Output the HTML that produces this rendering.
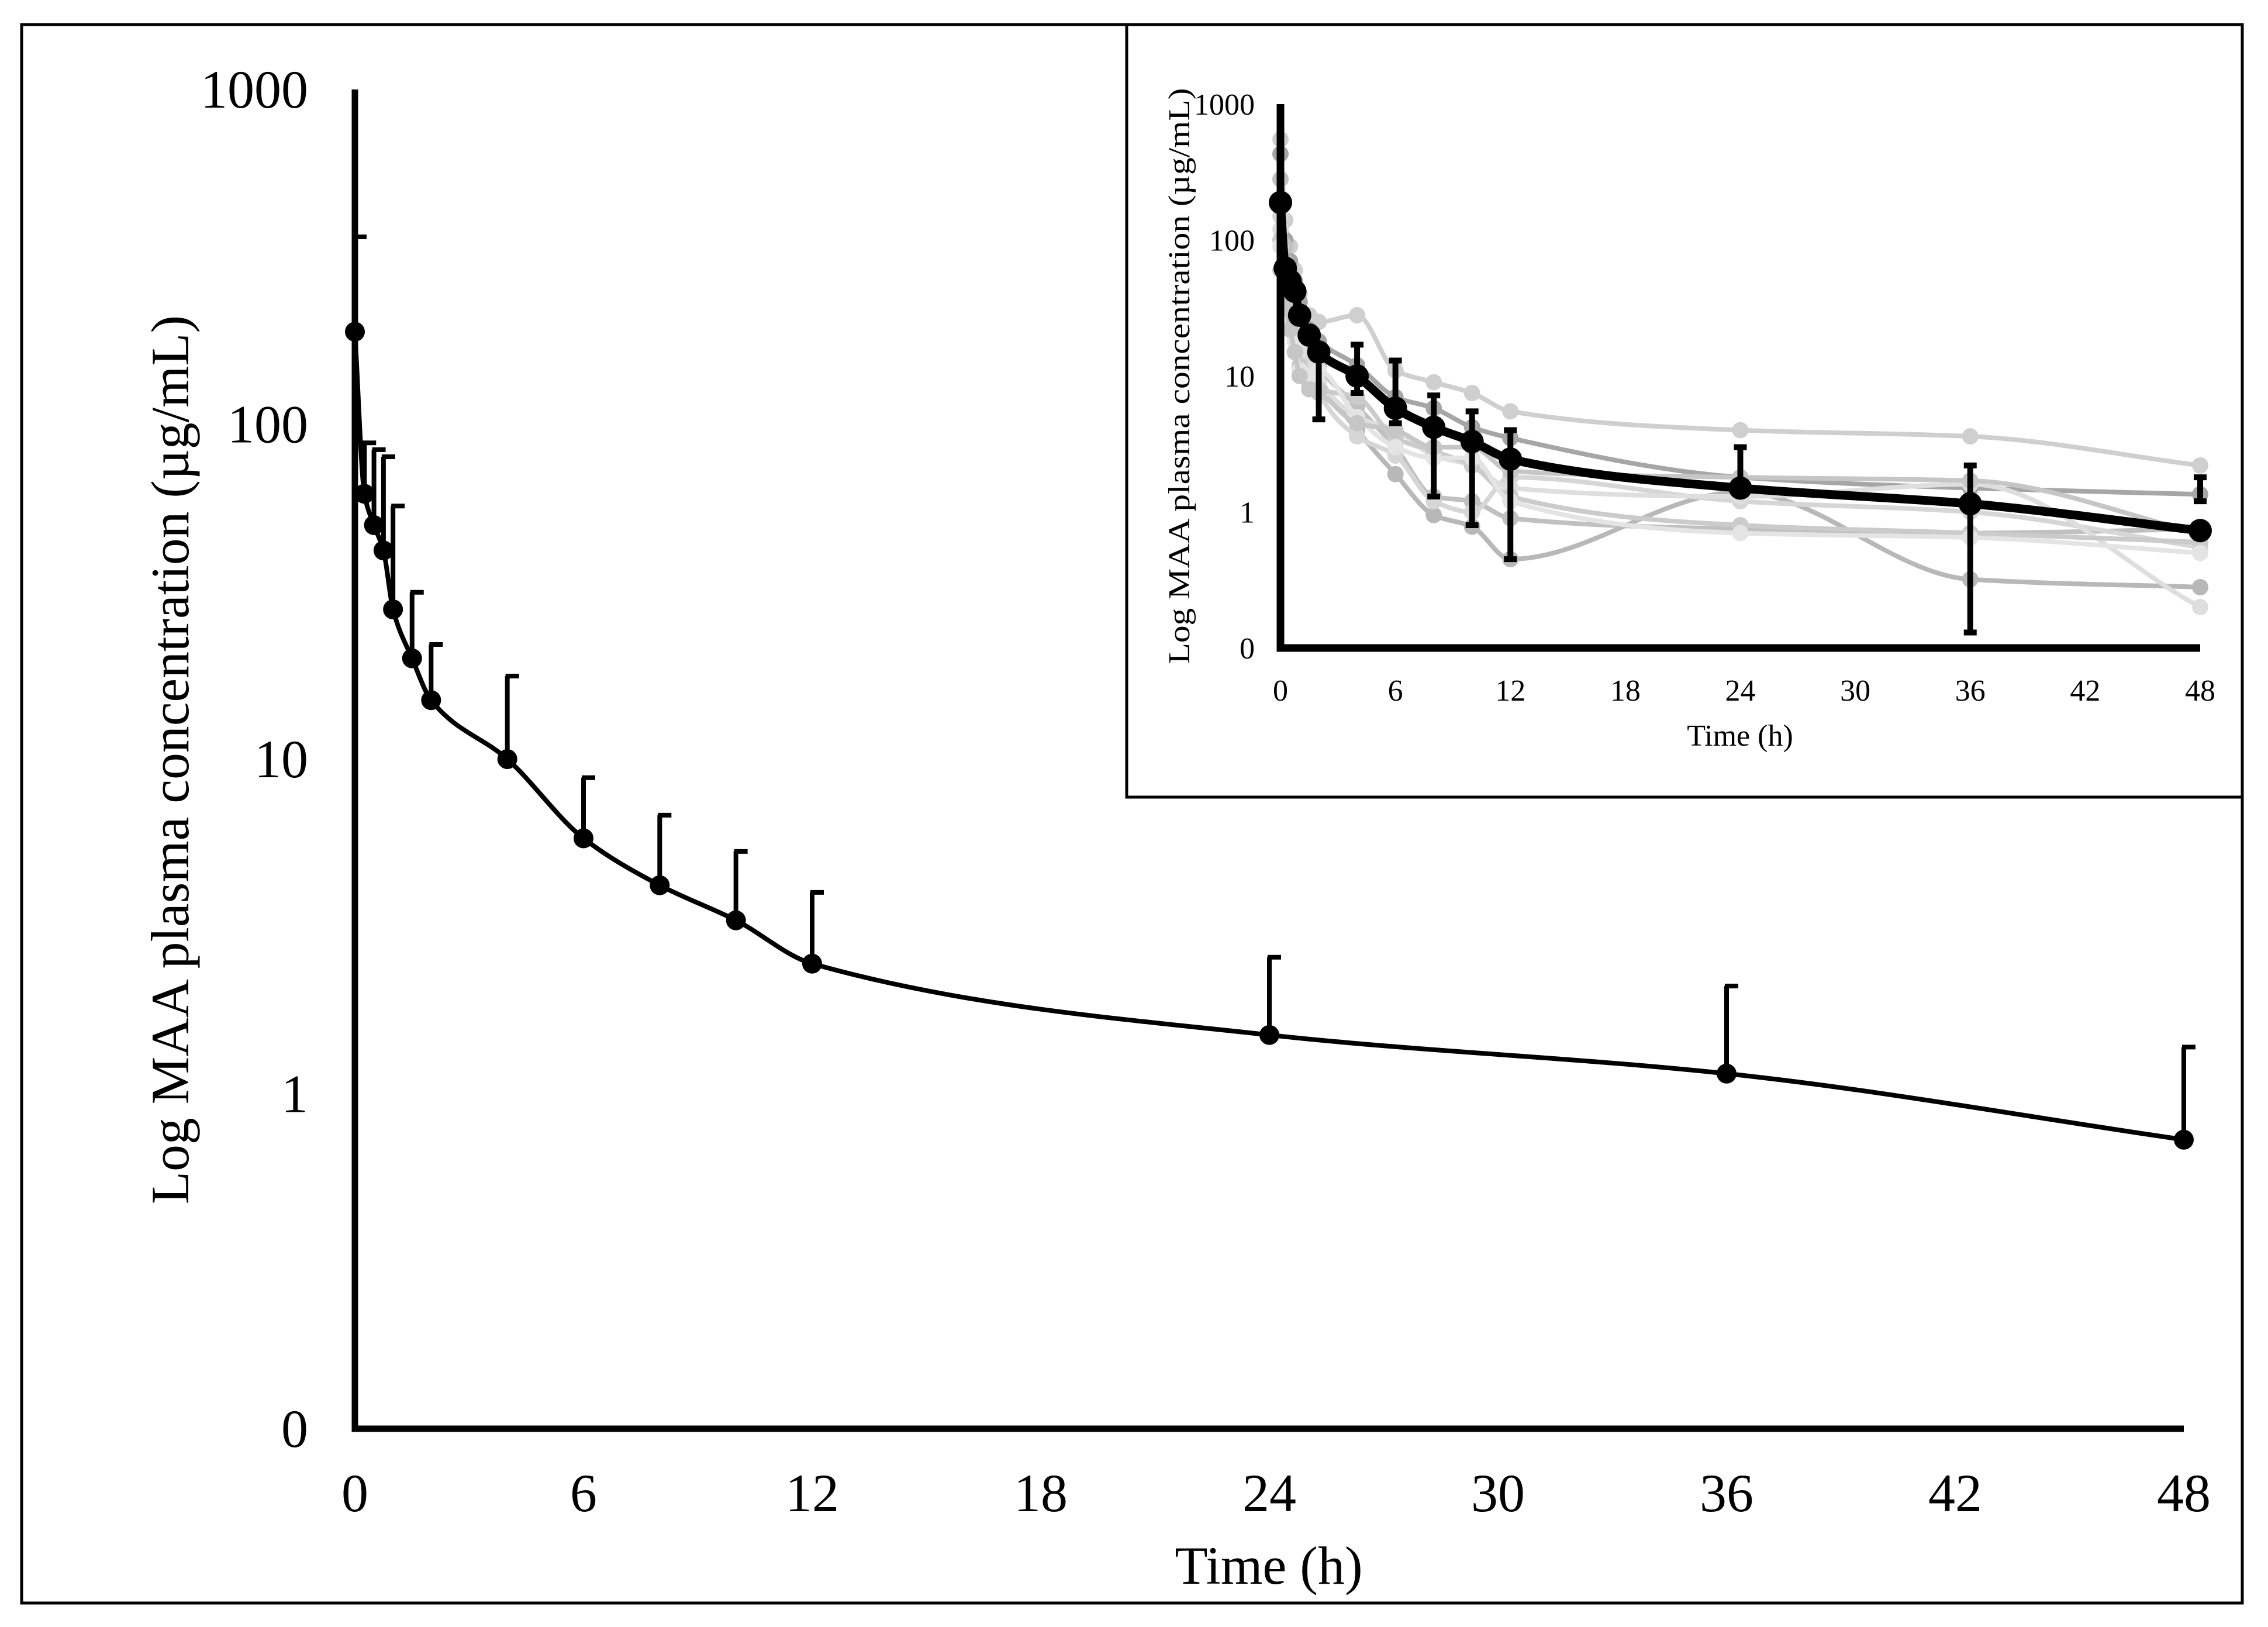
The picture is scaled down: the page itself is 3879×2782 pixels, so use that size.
<!DOCTYPE html>
<html><head><meta charset="utf-8"><style>
html,body{margin:0;padding:0;background:#fff}
svg{display:block}
text{font-family:"Liberation Serif",serif;fill:#000}
</style></head><body>
<svg id="chart" width="3879" height="2782" viewBox="0 0 3879 2782" xmlns="http://www.w3.org/2000/svg">
<rect x="37" y="42" width="3798" height="2699" fill="none" stroke="#000" stroke-width="5"/>
<g id="main"></g>
<rect x="1927" y="42" width="1908" height="1321" fill="#fff" stroke="#000" stroke-width="5"/>
<g id="inset"></g>
</svg>
<script>
const times=[0,0.25,0.5,0.75,1,1.5,2,4,6,8,10,12,24,36,48];
const meanConc=[189,62,50,42,28,20,15,10,5.8,4.2,3.3,2.45,1.5,1.15,0.73];
const errUpper=[363,88,84,80,57,31.5,22,17.7,8.8,6.8,5.3,4,2.56,2.1,1.38];
const insetErrLow=[null,null,null,null,null,null,4.8,7.5,4.5,1.3,0.8,0.45,1.5,0.13,1.2];
const insetErrHigh=[null,null,null,null,null,null,null,17,13,7.2,5.5,4,3,2.2,1.8];
const xTicks=[0,6,12,18,24,30,36,42,48];
const yTicks=[1000,100,10,1,0.1];
const yTickLabels=["1000","100","10","1","0"];
const subj1=[550,140,90,60,40,28,25,28,11,9,7.5,5.5,4,3.6,2.2];
const subj2=[430,100,70,50,35,22,18,12,7,5.8,4.2,3.5,1.8,1.5,1.35];
const subj3=[280,90,60,45,30,18,12,6,3,1.3,1.2,0.9,0.75,0.7,0.75];
const subj4=[200,70,45,35,25,15,10,4,1.9,0.95,0.78,0.45,1.4,0.32,0.28];
const subj5=[150,60,40,30,20,12,7.5,3.6,2.6,1.2,1.0,1.8,1.2,1.0,0.55];
const subj6=[120,50,35,25,15,11,9,5,4,2.6,2.2,1.5,1.3,1.6,0.2];
const subj7=[100,40,30,20,12,9,8,7,3.5,2.8,2.2,1.3,0.8,0.7,0.6];
const subj8=[90,38,25,18,11,10,11,5,3,2.5,2.5,1.2,0.7,0.65,0.5];
const subj9=[60,35,22,15,10,8,7.5,4.5,4,3,3,2,1.8,1.7,0.7];
const subjects=[subj1,subj2,subj3,subj4,subj5,subj6,subj7,subj8,subj9];
const subjColors=["#cfcfcf","#a6a6a6","#c0c0c0","#b8b8b8","#d6d6d6","#dedede","#cbcbcb","#e4e4e4","#c6c6c6"];

const NS="http://www.w3.org/2000/svg";
function mk(tag,attrs,parent){const e=document.createElementNS(NS,tag);for(const k in attrs)e.setAttribute(k,attrs[k]);parent.appendChild(e);return e;}
function smooth(pts){
  const n=pts.length;const dx=[],m=[],t=new Array(n);
  for(let i=0;i<n-1;i++){dx.push(pts[i+1][0]-pts[i][0]);m.push((pts[i+1][1]-pts[i][1])/dx[i]);}
  t[0]=m[0];t[n-1]=m[n-2];
  for(let i=1;i<n-1;i++){if(m[i-1]*m[i]<=0)t[i]=0;else{const w1=2*dx[i]+dx[i-1],w2=dx[i]+2*dx[i-1];t[i]=(w1+w2)/(w1/m[i-1]+w2/m[i]);}}
  let d="M"+pts[0][0]+","+pts[0][1];
  for(let i=0;i<n-1;i++){const h=dx[i]/3;d+=" C"+(pts[i][0]+h)+","+(pts[i][1]+t[i]*h)+" "+(pts[i+1][0]-h)+","+(pts[i+1][1]-t[i+1]*h)+" "+pts[i+1][0]+","+pts[i+1][1];}
  return d;}

function makeAxes(cfg){
  const sx=t=>cfg.x0+(t/48)*(cfg.x1-cfg.x0);
  const sy=v=>cfg.y0-(Math.log10(v)+1)*(cfg.y0-cfg.y1)/4;
  return {sx,sy};
}

// MAIN
(function(){
  const g=document.getElementById('main');
  const {sx,sy}=makeAxes({x0:607,x1:3735,y0:2443,y1:153});
  for(let i=0;i<times.length;i++){
    const x=sx(times[i]);
    const eb=mk('path',{d:"M"+x+","+sy(meanConc[i])+" L"+x+","+sy(errUpper[i])+" M"+(x-3)+","+sy(errUpper[i])+" L"+(x+20)+","+sy(errUpper[i]),stroke:"#000","stroke-width":8,fill:"none"},g);
    
    
  }
  const pts=times.map((t,i)=>[sx(t),sy(meanConc[i])]);
  const ln=mk('path',{d:smooth(pts),stroke:"#000","stroke-width":8,fill:"none","stroke-linejoin":"round"},g);
  
  
  pts.forEach(p=>{const c=mk('circle',{cx:p[0],cy:p[1],r:17,fill:"#000"},g);
    
    });
  const ax=mk('path',{d:"M607,153 L607,2443 L3735,2443",stroke:"#000","stroke-width":11,fill:"none"},g);
  
  
  xTicks.forEach(t=>{const tx=mk('text',{x:sx(t),y:2584,"text-anchor":"middle","font-size":92},g);tx.textContent=t;
    
    });
  yTicks.forEach((v,i)=>{const tx=mk('text',{x:527,y:sy(v)+31,"text-anchor":"end","font-size":92},g);tx.textContent=yTickLabels[i];
    
    });
  const xt=mk('text',{x:2170,y:2708,"text-anchor":"middle","font-size":92},g);xt.textContent="Time (h)";
  
  
  const yt=mk('text',{x:0,y:0,"text-anchor":"middle","font-size":92,transform:"translate(322,1299) rotate(-90)",textLength:1520,lengthAdjust:"spacingAndGlyphs"},g);yt.textContent="Log MAA plasma concentration  (µg/mL)";
  
  
})();

// INSET
(function(){
  const g=document.getElementById('inset');
  const {sx,sy}=makeAxes({x0:2190,x1:3763,y0:1108,y1:178});
  subjects.forEach((s,k)=>{
    const pts=times.map((t,i)=>[sx(t),sy(s[i])]);
    const l=mk('path',{d:smooth(pts),stroke:subjColors[k],"stroke-width":8,fill:"none"},g);
    
    
    pts.forEach(p=>{const c=mk('circle',{cx:p[0],cy:p[1],r:14,fill:subjColors[k]},g);
      
      });
  });
  for(let i=0;i<times.length;i++){
    const x=sx(times[i]);const m=sy(meanConc[i]);
    const lo=insetErrLow[i]!=null?sy(insetErrLow[i]):m;
    const hi=insetErrHigh[i]!=null?sy(insetErrHigh[i]):m;
    if(lo===m&&hi===m)continue;
    let d="M"+x+","+lo+" L"+x+","+hi;
    if(hi!==m)d+=" M"+(x-11)+","+hi+" L"+(x+11)+","+hi;
    if(lo!==m)d+=" M"+(x-11)+","+lo+" L"+(x+11)+","+lo;
    const eb=mk('path',{d:d,stroke:"#000","stroke-width":10,fill:"none"},g);
    
    
  }
  const pts=times.map((t,i)=>[sx(t),sy(meanConc[i])]);
  const ln=mk('path',{d:smooth(pts),stroke:"#000","stroke-width":15,fill:"none"},g);
  
  
  pts.forEach(p=>{const c=mk('circle',{cx:p[0],cy:p[1],r:20,fill:"#000"},g);
    
    });
  const ax=mk('path',{d:"M2190,178 L2190,1108 L3763,1108",stroke:"#000","stroke-width":13,fill:"none"},g);
  
  
  xTicks.forEach(t=>{const tx=mk('text',{x:sx(t),y:1198,"text-anchor":"middle","font-size":52},g);tx.textContent=t;
    
    });
  yTicks.forEach((v,i)=>{const tx=mk('text',{x:2146,y:sy(v)+18,"text-anchor":"end","font-size":52},g);tx.textContent=yTickLabels[i];
    
    });
  const xt=mk('text',{x:2976,y:1275,"text-anchor":"middle","font-size":52},g);xt.textContent="Time (h)";
  
  
  const yt=mk('text',{x:0,y:0,"text-anchor":"middle","font-size":52,transform:"translate(2034,643) rotate(-90)",textLength:985,lengthAdjust:"spacingAndGlyphs"},g);yt.textContent="Log MAA plasma concentration (µg/mL)";
  
  
})();
</script>
</body></html>
